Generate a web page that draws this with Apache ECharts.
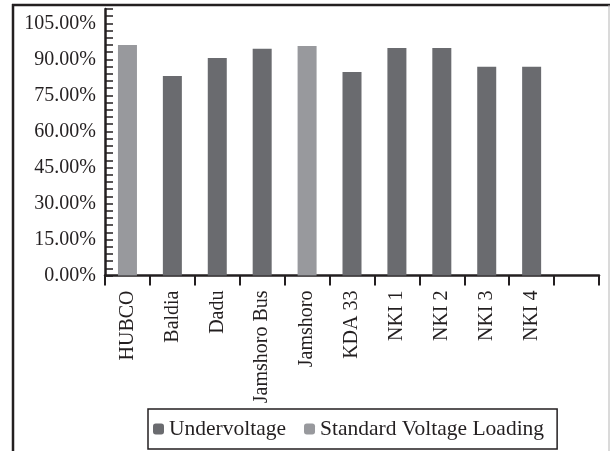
<!DOCTYPE html>
<html lang="en">
<head>
  <meta charset="UTF-8" />
  <title>Bus voltage loading</title>
  <script src="https://cdn.jsdelivr.net/npm/echarts@6.0.0/dist/echarts.min.js"></script>
  <style>
    html, body { margin: 0; padding: 0; background: #fff; }
    #chart { width: 610px; height: 451px; }
  </style>
</head>
<body>
  <div id="chart"></div>
  <script>
    // bus names (last slot is an empty category, as in the original)
    const buses = ['HUBCO', 'Baldia', 'Dadu', 'Jamshoro Bus', 'Jamshoro', 'KDA 33', 'NKI 1', 'NKI 2', 'NKI 3', 'NKI 4', ''];
    // loading in percent, '-' where the bus belongs to the other group
    const underVoltage = ['-', 83.1, 90.6, 94.4, '-', 84.8, 94.8, 94.8, 86.9, 86.9, '-'];
    const standardLoading = [96.0, '-', '-', '-', 95.6, '-', '-', '-', '-', '-', '-'];
    const seriesNames = ['Undervoltage', 'Standard Voltage Loading'];

    const ink = '#231f20';
    const font = '"Liberation Serif", "Times New Roman", serif';

    const chart = echarts.init(document.getElementById('chart'));

    chart.setOption({
      animation: false,
      textStyle: { fontFamily: font, color: ink },
      grid: { left: 105, right: 11, top: 9, bottom: 175.5 },
      legend: {
        data: seriesNames,
        left: 148,
        top: 409,
        orient: 'horizontal',
        itemWidth: 11,
        itemHeight: 11,
        itemGap: 18,
        padding: [9, 13, 9, 5],
        borderColor: ink,
        borderWidth: 1.5,
        textStyle: { fontFamily: font, fontSize: 21.5, color: ink }
      },
      xAxis: {
        type: 'category',
        data: buses,
        axisLine: { lineStyle: { color: ink, width: 2.5 } },
        axisTick: { show: true, length: 10, lineStyle: { color: ink, width: 2 } },
        axisLabel: { rotate: 90, margin: 15, fontSize: 20, color: ink, fontFamily: font, interval: 0 },
        splitLine: { show: false }
      },
      yAxis: {
        type: 'value',
        min: 0,
        max: 111,
        interval: 3,
        axisLine: { show: true, lineStyle: { color: ink, width: 2.5 } },
        axisTick: { show: true, inside: true, length: 8, lineStyle: { color: ink, width: 1.5 } },
        axisLabel: {
          margin: 9,
          fontSize: 20,
          color: ink,
          fontFamily: font,
          formatter: function (v) {
            return v % 15 === 0 ? v.toFixed(2) + '%' : '';
          }
        },
        splitLine: { show: false }
      },
      series: [
        {
          name: seriesNames[0],
          type: 'bar',
          stack: 'load',
          barWidth: 19,
          itemStyle: { color: '#6a6b6f' },
          data: underVoltage
        },
        {
          name: seriesNames[1],
          type: 'bar',
          stack: 'load',
          barWidth: 19,
          itemStyle: { color: '#98999d' },
          data: standardLoading
        }
      ],
      graphic: [
        { type: 'line', shape: { x1: 12, y1: 5, x2: 610, y2: 5 }, style: { stroke: ink, lineWidth: 2.5 } },
        { type: 'line', shape: { x1: 13, y1: 4, x2: 13, y2: 451 }, style: { stroke: ink, lineWidth: 2.5 } },
        { type: 'line', shape: { x1: 609, y1: 5, x2: 609, y2: 451 }, style: { stroke: '#b5b5b5', lineWidth: 1 } }
      ]
    });
  </script>
</body>
</html>
